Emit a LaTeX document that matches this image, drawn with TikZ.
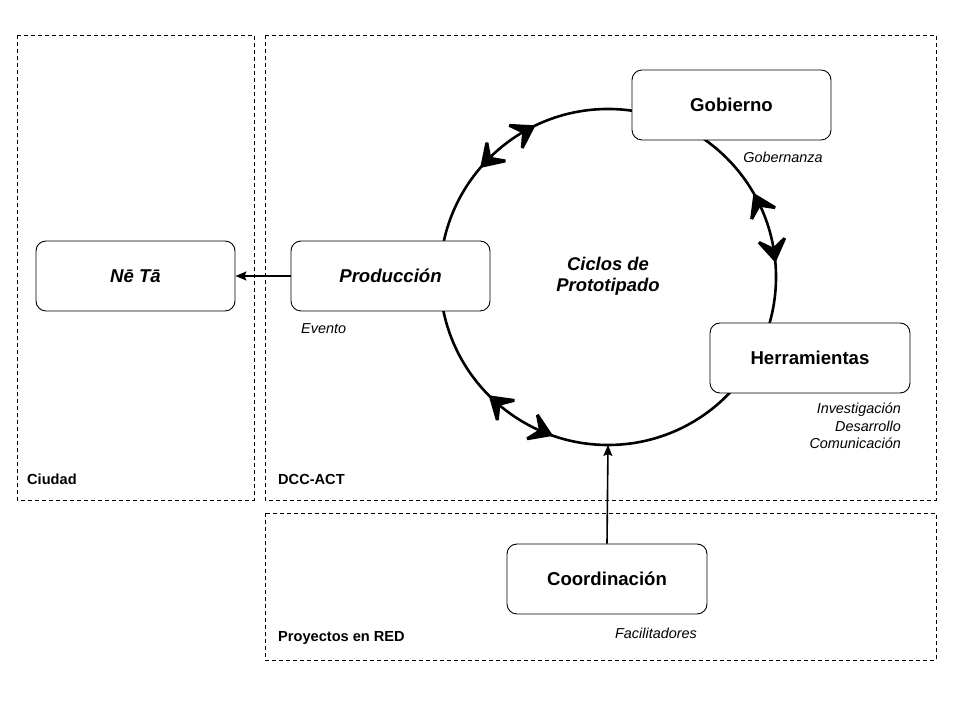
\documentclass[tikz,border=0pt]{standalone}
\usepackage{fontspec}
\setmainfont{Liberation Sans}
\usetikzlibrary{arrows.meta}
\begin{document}
\begin{tikzpicture}[x=1pt,y=1pt,
  container/.style={draw=black,line width=0.9pt,dash pattern=on 4pt off 3pt},
  box/.style={draw=black,fill=white,line width=0.9pt,rounded corners=10pt,minimum width=199pt,minimum height=70pt,inner sep=0pt,font=\fontsize{18.6}{21}\selectfont\bfseries},
  ibox/.style={box,font=\fontsize{18.6}{21}\selectfont\bfseries\itshape},
  grouplabel/.style={font=\fontsize{14.6}{17}\selectfont\bfseries,anchor=west,inner sep=0pt},
  note/.style={font=\fontsize{14.4}{17}\selectfont\itshape,inner sep=0pt},
  ring/.style={line width=2.6pt},
  chevron/.pic={\filldraw[line width=3pt,line join=miter,miter limit=3] (-2,0) -- (-22,13) -- (-13,0) -- (-22,-13) -- cycle;},
  link/.style={line width=1.6pt,-{Stealth[length=11pt,width=9pt,inset=2pt]}}
]
\useasboundingbox (0,0) rectangle (954,706);
% containers
\draw[container] (17,671) rectangle (254,206);
\draw[container] (265,671) rectangle (936,206);
\draw[container] (265,193) rectangle (936,46);
\node[grouplabel] (lciudad) at (27,227) {Ciudad};
\node[grouplabel] (ldcc) at (278,227) {DCC-ACT};
\node[grouplabel] (lred) at (278,68) {Proyectos en RED};
% ring
\coordinate (c) at (608,429);
\draw[ring] (c) circle[radius=168];
\coordinate (t1) at ([shift={(115.8:168)}]c);
\coordinate (t2) at ([shift={(139.3:168)}]c);
\coordinate (t3) at ([shift={(29.8:168)}]c);
\coordinate (t4) at ([shift={(5.1:168)}]c);
\coordinate (t5) at ([shift={(225:168)}]c);
\coordinate (t6) at ([shift={(250.7:168)}]c);
\pic[rotate=29.8] at (t1) {chevron};
\pic[rotate=225.3] at (t2) {chevron};
\pic[rotate=115.8] at (t3) {chevron};
\pic[rotate=-80.9] at (t4) {chevron};
\pic[rotate=139] at (t5) {chevron};
\pic[rotate=336.7] at (t6) {chevron};
\coordinate (ringbottom) at (608,261);
\node[align=center,font=\fontsize{18.4}{21}\selectfont\bfseries\itshape] (ciclos) at (608,430) {Ciclos de\\Prototipado};
% boxes
\node[box] (gob) at (731.5,601) {Gobierno};
\node[box,minimum width=200pt] (herr) at (810,348) {Herramientas};
\node[ibox] (prod) at (390.5,430) {Producción};
\node[ibox] (neta) at (135.5,430) {Nē Tā};
\node[box,minimum width=200pt] (coord) at (607,127) {Coordinación};
% links
\draw[link] (prod.west) -- (neta.east);
\draw[link] (coord.north) -- (ringbottom);
% notes
\node[note] (ngob) at (783,549) {Gobernanza};
\node[note,anchor=west] (nev) at (301,377) {Evento};
\node[note,align=right,anchor=north east,font=\fontsize{14.4}{17.5}\selectfont\itshape] (nherr) at (901,303) {Investigación\\Desarrollo\\Comunicación};
\node[note,anchor=east] (nfac) at (697,73) {Facilitadores};
\end{tikzpicture}
\end{document}
